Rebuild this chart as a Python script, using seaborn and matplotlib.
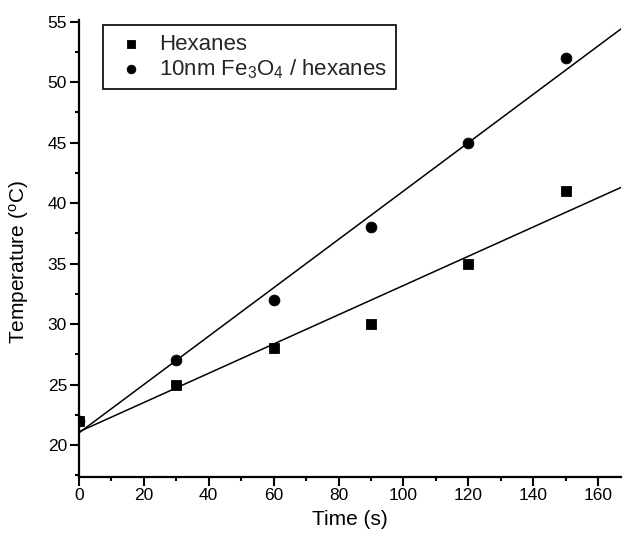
import matplotlib
matplotlib.use("Agg")
import matplotlib.pyplot as plt
import seaborn as sns
import pandas as pd
from matplotlib.ticker import MultipleLocator

# Heating measurements (temperature vs. time)
time_s = [0, 30, 60, 90, 120, 150]
hexanes_temp = [22, 25, 28, 30, 35, 41]
fe3o4_temp = [22, 27, 32, 38, 45, 52]
series_labels = ["Hexanes", "10nm Fe$_3$O$_4$ / hexanes"]

df_hex = pd.DataFrame({"time": time_s, "temp": hexanes_temp})
df_fe = pd.DataFrame({"time": time_s, "temp": fe3o4_temp})

sns.set_style("ticks")
plt.rcParams["font.family"] = ["Liberation Sans", "DejaVu Sans"]
plt.rcParams["mathtext.fontset"] = "custom"
plt.rcParams["mathtext.rm"] = "Liberation Sans"
plt.rcParams["mathtext.it"] = "Liberation Sans"

fig = plt.figure(figsize=(6.26, 5.36), dpi=100)
ax = fig.add_axes([0.126, 0.111, 0.866, 0.852])
ax.set_xlim(0, 167)
ax.set_ylim(17.4, 55.15)

# Least-squares fit lines spanning the full axis width
for df in (df_hex, df_fe):
    sns.regplot(data=df, x="time", y="temp", ax=ax, scatter=False, ci=None,
                truncate=False, color="black", line_kws={"lw": 1.1})

sns.scatterplot(data=df_hex, x="time", y="temp", ax=ax, marker="s", s=55,
                color="black", edgecolor="black", label=series_labels[0],
                zorder=3, clip_on=True)
sns.scatterplot(data=df_fe, x="time", y="temp", ax=ax, marker="o", s=60,
                color="black", edgecolor="black", label=series_labels[1],
                zorder=3, clip_on=True)

ax.set_xlim(0, 167)
ax.set_ylim(17.4, 55.15)

ax.xaxis.set_major_locator(MultipleLocator(20))
ax.xaxis.set_minor_locator(MultipleLocator(10))
ax.yaxis.set_major_locator(MultipleLocator(5))
ax.yaxis.set_minor_locator(MultipleLocator(2.5))
ax.set_yticks(range(20, 56, 5))

ax.tick_params(which="major", direction="out", length=6.5, width=1.5, pad=2,
               labelsize=12.5, color="black", labelcolor="black")
ax.tick_params(which="minor", direction="out", length=3, width=1.5,
               color="black")

for side in ("left", "bottom"):
    ax.spines[side].set_linewidth(1.6)
    ax.spines[side].set_color("black")
sns.despine(ax=ax)

ax.set_xlabel("Time (s)", fontsize=15, color="black", labelpad=5)
ax.set_ylabel("Temperature ($^{\\mathrm{o}}$C)", fontsize=15, color="black")
ax.yaxis.set_label_coords(-0.088, 0.47)

leg = ax.legend(loc="upper left", bbox_to_anchor=(0.044, 0.989),
                borderaxespad=0, frameon=True, fancybox=False,
                fontsize=16, handletextpad=0.45, handlelength=1.7,
                borderpad=0.4, labelspacing=0.1, markerscale=0.8)
leg.get_frame().set_edgecolor("black")
leg.get_frame().set_linewidth(1.2)
leg.get_frame().set_alpha(1)

fig.savefig("out.png", dpi=100)
